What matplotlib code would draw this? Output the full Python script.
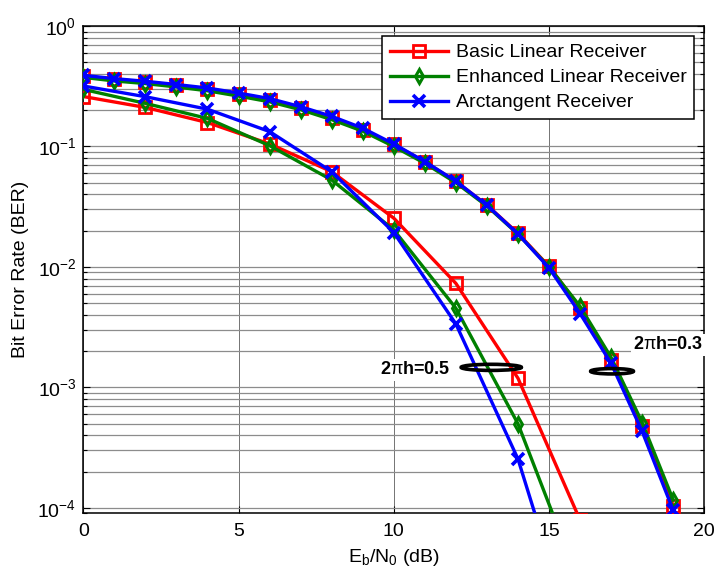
import matplotlib
matplotlib.use("Agg")
import matplotlib.pyplot as plt
from matplotlib.patches import Ellipse
from matplotlib.ticker import FixedLocator, NullFormatter

plt.rcParams['font.family'] = ['Liberation Sans', 'DejaVu Sans']
plt.rcParams['mathtext.fontset'] = 'custom'
plt.rcParams['mathtext.rm'] = 'Liberation Sans'
plt.rcParams['mathtext.it'] = 'Liberation Sans'
plt.rcParams['mathtext.bf'] = 'Liberation Sans:bold'

# Eb/N0 grids (dB)
snr_h05 = [0, 2, 4, 6, 8, 10, 12, 14, 16]
snr_h03 = list(range(0, 20))

# BER, 2*pi*h = 0.5
ber_basic_h05 = [0.26, 0.211, 0.158, 0.105, 0.0618, 0.0254, 0.0073, 0.00119, 7.9e-5]
ber_enh_h05 = [0.298, 0.228, 0.171, 0.1016, 0.0527, 0.0203, 0.00454, 0.000498, 2.3e-5]
ber_atan_h05 = [0.318, 0.259, 0.204, 0.133, 0.0618, 0.0193, 0.00336, 0.000254, 5.5e-6]

# BER, 2*pi*h = 0.3
ber_basic_h03 = [0.385, 0.362, 0.343, 0.322, 0.300, 0.272, 0.244, 0.209, 0.173, 0.138,
                 0.104, 0.0745, 0.0513, 0.0326, 0.0190, 0.0101, 0.0046, 0.0017, 0.00048, 0.000104]
ber_enh_h03 = [0.375, 0.350, 0.333, 0.312, 0.290, 0.262, 0.235, 0.202, 0.167, 0.134,
               0.100, 0.0725, 0.0500, 0.0320, 0.0187, 0.0100, 0.0047, 0.00177, 0.00051, 0.000116]
ber_atan_h03 = [0.390, 0.366, 0.348, 0.327, 0.306, 0.278, 0.250, 0.214, 0.178, 0.142,
                0.105, 0.0750, 0.0515, 0.0325, 0.0188, 0.0098, 0.0041, 0.00158, 0.00043, 0.000095]

labels = ['Basic Linear Receiver', 'Enhanced Linear Receiver', 'Arctangent Receiver']
colors = ['#ff0000', '#008000', '#0000ff']
markers = ['s', 'd', 'x']

x_ticks = [0, 5, 10, 15, 20]
y_ticks = [1e-4, 1e-3, 1e-2, 1e-1, 1e0]
y_ticklabels = [r'$\mathregular{10^{-4}}$', r'$\mathregular{10^{-3}}$', r'$\mathregular{10^{-2}}$',
                r'$\mathregular{10^{-1}}$', r'$\mathregular{10^{0}}$']

fig = plt.figure(figsize=(7.15, 5.79), dpi=100)
ax = fig.add_axes([0.1165, 0.1135, 0.8685, 0.8415])

series = [
    (ber_basic_h05, ber_basic_h03),
    (ber_enh_h05, ber_enh_h03),
    (ber_atan_h05, ber_atan_h03),
]
marker_size = {'s': 8.5, 'd': 7.5, 'x': 9}
marker_edge = {'s': 2.0, 'd': 2.2, 'x': 2.6}
for (b05, b03), lab, c, m in zip(series, labels, colors, markers):
    style = dict(color=c, lw=2.4, marker=m, ms=marker_size[m], mew=marker_edge[m],
                 mfc='none', mec=c, zorder=3)
    ax.semilogy(snr_h05, b05, label=lab, **style)
    ax.semilogy(snr_h03, b03, **style)

ax.set_xlim(0, 20)
ax.set_ylim(9e-5, 1)
ax.xaxis.set_major_locator(FixedLocator(x_ticks))
ax.yaxis.set_major_locator(FixedLocator(y_ticks))
ax.set_yticklabels(y_ticklabels)
minor = [k * 10.0 ** e for e in range(-5, 0) for k in range(2, 10)]
ax.yaxis.set_minor_locator(FixedLocator(minor))
ax.yaxis.set_minor_formatter(NullFormatter())
ax.xaxis.set_minor_locator(FixedLocator([]))

ax.grid(True, which='major', axis='x', color='0.45', lw=0.7, ls='-')
ax.grid(True, which='both', axis='y', color='0.55', lw=0.9, ls='-')
ax.set_axisbelow(True)

ax.tick_params(which='both', direction='in', top=True, right=True, labelsize=14,
               width=0.8, colors='black')
ax.tick_params(which='major', length=5)
ax.tick_params(which='minor', length=3)
ax.tick_params(axis='x', pad=7)
ax.tick_params(axis='y', pad=5)
for s in ax.spines.values():
    s.set_linewidth(1.1)

ax.set_xlabel(r'$\mathregular{E_b/N_0}$ (dB)', fontsize=14, labelpad=5)
ax.set_ylabel('Bit Error Rate (BER)', fontsize=14, labelpad=6)

leg = ax.legend(loc='upper right', bbox_to_anchor=(0.984, 0.9795), borderaxespad=0,
                fontsize=14, handlelength=3.0, handletextpad=0.4, labelspacing=0.38,
                borderpad=0.4, fancybox=False, framealpha=1, edgecolor='black')
leg.get_frame().set_linewidth(1.1)

# Group markers for the two modulation indices
ax.add_patch(Ellipse((0.657, 0.2995), 0.097, 0.0125, transform=ax.transAxes,
                     fill=False, ec='black', lw=2.6, zorder=5))
ax.add_patch(Ellipse((0.8515, 0.2915), 0.069, 0.011, transform=ax.transAxes,
                     fill=False, ec='black', lw=2.6, zorder=5))
ax.text(10.7, 1.4e-3, r'2$\pi$h=0.5', fontsize=13, fontweight='bold', ha='center',
        va='center', zorder=4,
        bbox=dict(boxstyle='square,pad=0.15', fc='white', ec='none'))
ax.text(18.85, 2.25e-3, r'2$\pi$h=0.3', fontsize=13, fontweight='bold', ha='center',
        va='center', zorder=4,
        bbox=dict(boxstyle='square,pad=0.15', fc='white', ec='none'))

fig.savefig('out.png', dpi=100)
